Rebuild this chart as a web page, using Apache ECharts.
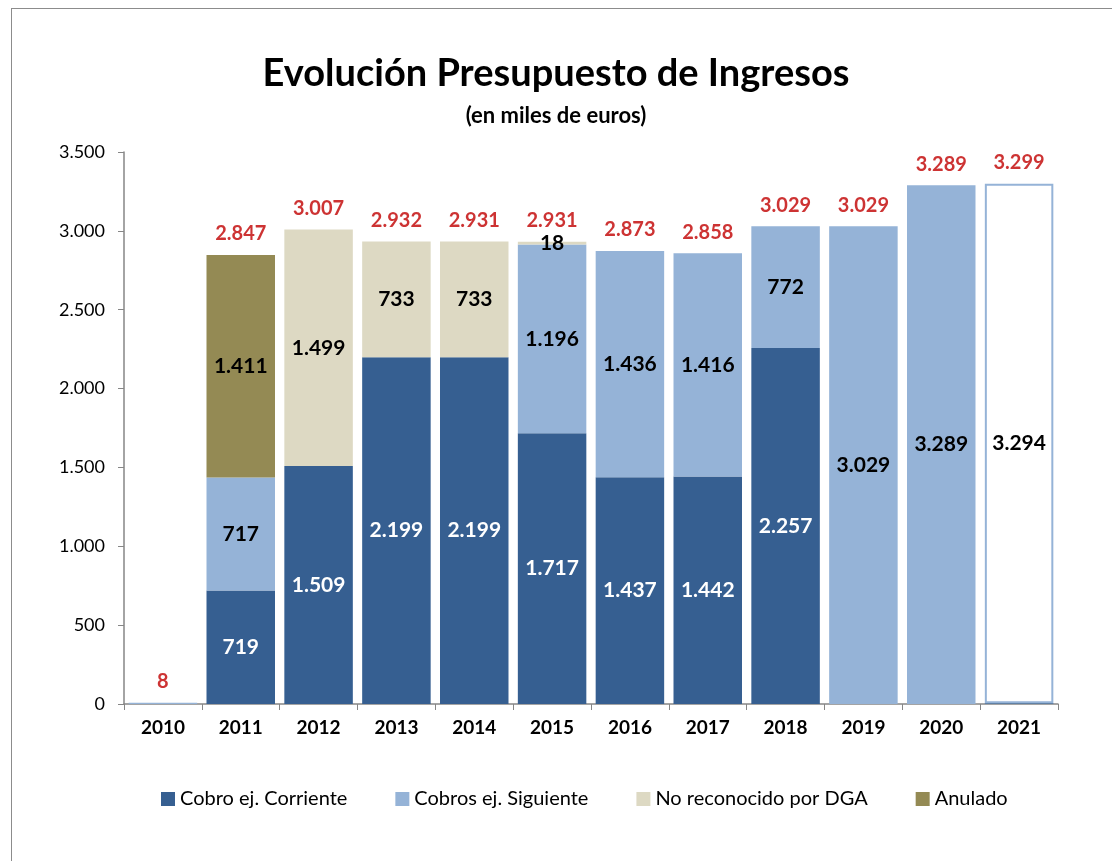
<!DOCTYPE html>
<html>
<head>
<meta charset="utf-8">
<script src="https://cdn.jsdelivr.net/npm/echarts@6/dist/echarts.min.js"></script>
<style>
  html, body { margin: 0; padding: 0; background: #fff; }
  #frame { position: absolute; left: 11px; top: 8px; width: 1120px; height: 870px; border: 1.5px solid #8c8c8c; }
  #chart { width: 1112px; height: 861px; position: absolute; left: 0; top: 0; }
</style>
</head>
<body>
<div id="frame"></div>
<div id="chart"></div>
<script>
// categorías y series
const years = ['2010', '2011', '2012', '2013', '2014', '2015', '2016', '2017', '2018', '2019', '2020', '2021']
const cobroCorriente = [0, 719, 1509, 2199, 2199, 1717, 1437, 1442, 2257, 0, 0, 5]
const cobrosSiguiente = [8, 717, 0, 0, 0, 1196, 1436, 1416, 772, 3029, 3289, 0]
const noReconocido = [0, 0, 1499, 733, 733, 18, 0, 0, 0, 0, 0, 0]
const anulado = [0, 1411, 0, 0, 0, 0, 0, 0, 0, 0, 0, 0]
const pendiente = [0, 0, 0, 0, 0, 0, 0, 0, 0, 0, 0, 3294]
const totales = [8, 2847, 3007, 2932, 2931, 2931, 2873, 2858, 3029, 3029, 3289, 3299]

const fmt = v => String(v).replace(/\B(?=(\d{3})+(?!\d))/g, '.')
const noZero = arr => arr.map(v => (v === 0 ? '-' : v))
const FONT = 'Lato, "Open Sans", sans-serif'

const chart = echarts.init(document.getElementById('chart'))

// etiqueta de cada tramo
function segLabel(color) {
  return {
    show: true,
    position: 'inside',
    color: color,
    fontFamily: FONT,
    fontWeight: 'bold',
    fontSize: 21,
    formatter: p => (p.value >= 10 ? fmt(p.value) : '')
  }
}

const option = {
  animation: false,
  title: [
    {
      text: 'Evolución Presupuesto de Ingresos',
      left: 'center',
      top: 50,
      textStyle: { fontFamily: FONT, fontWeight: 'bold', fontSize: 38, color: '#000' }
    },
    {
      text: '(en miles de euros)',
      left: 'center',
      top: 100,
      textStyle: { fontFamily: FONT, fontWeight: 'bold', fontSize: 22, color: '#000' }
    }
  ],
  legend: {
    data: ['Cobro ej. Corriente', 'Cobros ej. Siguiente', 'No reconocido por DGA', 'Anulado'],
    left: 156,
    top: 784,
    itemWidth: 14,
    itemHeight: 14,
    itemGap: 48,
    icon: 'rect',
    textStyle: { fontFamily: FONT, fontSize: 20, color: '#000' }
  },
  grid: { left: 124, right: 54, top: 152, bottom: 157 },
  xAxis: {
    type: 'category',
    data: years,
    axisLine: { lineStyle: { color: '#868686', width: 1.5 } },
    axisTick: { show: true, length: 6, lineStyle: { color: '#868686' } },
    axisLabel: { fontFamily: FONT, fontWeight: 'bold', fontSize: 19, color: '#000', margin: 14 }
  },
  yAxis: {
    type: 'value',
    min: 0,
    max: 3500,
    interval: 500,
    splitLine: { show: false },
    axisLine: { show: true, lineStyle: { color: '#868686', width: 1.5 } },
    axisTick: { show: true, length: 6, lineStyle: { color: '#868686' } },
    axisLabel: { fontFamily: FONT, fontSize: 18, color: '#000', margin: 19, formatter: v => fmt(v) }
  },
  series: [
    {
      name: 'Cobro ej. Corriente',
      type: 'bar',
      stack: 'total',
      barCategoryGap: '12%',
      data: noZero(cobroCorriente),
      itemStyle: { color: '#365f91' },
      label: segLabel('#fff')
    },
    {
      name: 'Cobros ej. Siguiente',
      type: 'bar',
      stack: 'total',
      data: noZero(cobrosSiguiente),
      itemStyle: { color: '#95b3d7' },
      label: segLabel('#000')
    },
    {
      name: 'No reconocido por DGA',
      type: 'bar',
      stack: 'total',
      data: noZero(noReconocido),
      itemStyle: { color: '#ddd9c3' },
      label: segLabel('#000')
    },
    {
      name: 'Anulado',
      type: 'bar',
      stack: 'total',
      data: noZero(anulado),
      itemStyle: { color: '#948a54' },
      label: segLabel('#000')
    },
    {
      name: 'Previsto',
      type: 'bar',
      stack: 'total',
      data: noZero(pendiente),
      itemStyle: { color: '#fff', borderColor: '#95b3d7', borderWidth: 2 },
      label: segLabel('#000')
    },
    {
      name: 'Total',
      type: 'scatter',
      data: totales,
      symbolSize: 0,
      label: {
        show: true,
        position: 'top',
        distance: 11,
        color: '#c00000',
        fontFamily: FONT,
        fontWeight: 'bold',
        fontSize: 20,
        formatter: p => fmt(p.value)
      }
    }
  ]
}

chart.setOption(option)
</script>
</body>
</html>
